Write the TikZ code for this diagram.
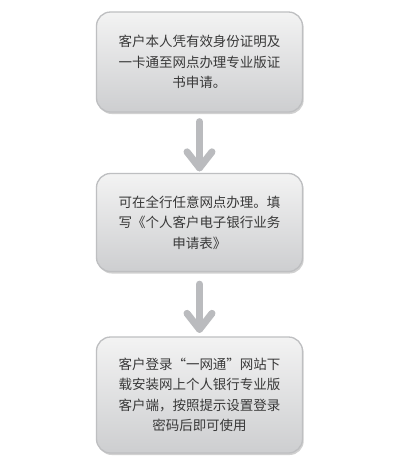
\documentclass[tikz,border=0pt]{standalone}
\usepackage{fontspec}
\newfontfamily\cjk{Noto Sans CJK SC}
\usetikzlibrary{shadows}
\definecolor{boxtop}{HTML}{F3F3F3}
\definecolor{boxbot}{HTML}{CDCED0}
\definecolor{boxline}{HTML}{BEBFC1}
\definecolor{arrowgray}{HTML}{BABBBE}
\definecolor{txt}{HTML}{383838}
\tikzset{
  stepbox/.style={rounded corners=14pt, minimum width=206pt, align=center,
    top color=boxtop, bottom color=boxbot, draw=boxline, line width=1.3pt,
    drop shadow={shadow xshift=1.2pt, shadow yshift=-2pt, opacity=0.18, fill=black},
    font=\cjk\fontsize{13.5}{20.5}\selectfont, text=txt, inner sep=0pt},
  arrowline/.style={draw=arrowgray, line width=7pt, line cap=round, line join=round}
}
\begin{document}
\begin{tikzpicture}[x=1pt,y=-1pt]
\useasboundingbox[fill=white] (0,0) rectangle (411,475);
\node[stepbox, minimum height=100pt] (b1) at (199.5,62)
  {客户本人凭有效身份证明及\\一卡通至网点办理专业版证\\书申请。};
\node[stepbox, minimum height=98pt] (b2) at (199.5,222.5)
  {可在全行任意网点办理。填\\写《个人客户电子银行业务\\申请表》};
\node[stepbox, minimum height=116pt] (b3) at (199.5,395)
  {客户登录“一网通”网站下\\载安装网上个人银行专业版\\客户端，按照提示设置登录\\密码后即可使用};
\draw[arrowline] ([yshift=-9pt]b1.south) -- ([yshift=5pt]b2.north);
\draw[arrowline] ([xshift=-12.5pt,yshift=21pt]b2.north) -- ([yshift=5pt]b2.north) -- ([xshift=12.5pt,yshift=21pt]b2.north);
\draw[arrowline] ([yshift=-12pt]b2.south) -- ([yshift=7pt]b3.north);
\draw[arrowline] ([xshift=-12.5pt,yshift=23pt]b3.north) -- ([yshift=7pt]b3.north) -- ([xshift=12.5pt,yshift=23pt]b3.north);
\end{tikzpicture}
\end{document}
